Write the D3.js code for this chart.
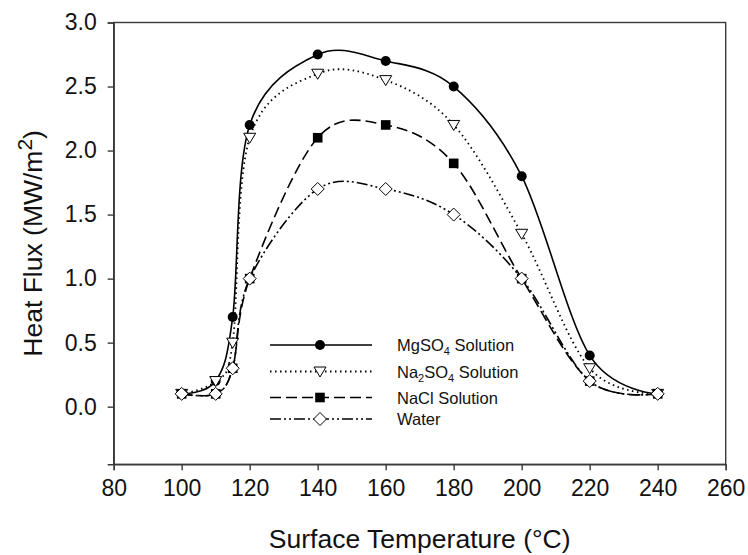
<!DOCTYPE html>
<html>
<head>
<meta charset="utf-8">
<script src="https://cdn.jsdelivr.net/npm/d3@7"></script>
<style>
  body { margin: 0; background: #fff; }
  text { font-family: "Liberation Sans", Arial, sans-serif; fill: #111; }
</style>
</head>
<body>
<svg width="748" height="555"></svg>
<script>
// temperatures (°C) and heat flux (MW/m2) per fluid
var temps = [100, 110, 115, 120, 140, 160, 180, 200, 220, 240];
var mgso4 = [0.1, 0.2, 0.7, 2.2, 2.75, 2.7, 2.5, 1.8, 0.4, 0.1];
var na2so4 = [0.1, 0.2, 0.5, 2.1, 2.6, 2.55, 2.2, 1.35, 0.3, 0.1];
var nacl = [0.1, 0.1, 0.3, 1.0, 2.1, 2.2, 1.9, 1.0, 0.2, 0.1];
var water = [0.1, 0.1, 0.3, 1.0, 1.7, 1.7, 1.5, 1.0, 0.2, 0.1];

var xTicks = [80, 100, 120, 140, 160, 180, 200, 220, 240, 260];
var yTicks = [0.0, 0.5, 1.0, 1.5, 2.0, 2.5, 3.0];

var series = [
  {name: "MgSO", sub: "4", rest: " Solution", values: mgso4, dash: null, marker: "circle"},
  {name: "Na", sub: "2", rest: "SO", sub2: "4", rest2: " Solution", values: na2so4, dash: "1.5,3.5", marker: "triangle"},
  {name: "NaCl Solution", values: nacl, dash: "11,5", marker: "square"},
  {name: "Water", values: water, dash: "11,3,2,3,2,3", marker: "diamond"}
];

var svg = d3.select("svg");
var margin = {left: 113.7, top: 22.5, right: 22.3, bottom: 90.7};
var width = 748 - margin.left - margin.right;
var height = 555 - margin.top - margin.bottom;

var x = d3.scaleLinear().domain([80, 260]).range([0, width]);
var y = d3.scaleLinear().domain([-0.45, 3.0]).range([height, 0]);

var g = svg.append("g").attr("transform", "translate(" + margin.left + "," + margin.top + ")");

// frame
g.append("rect")
  .attr("width", width).attr("height", height)
  .attr("fill", "none").attr("stroke", "#3a3a3a").attr("stroke-width", 1.4);

var xAxis = g.append("g")
  .attr("transform", "translate(0," + height + ")")
  .call(d3.axisBottom(x).tickValues(xTicks).tickSize(6).tickPadding(9).tickFormat(d3.format("d")));
var yAxis = g.append("g")
  .call(d3.axisLeft(y).tickValues(yTicks).tickSize(6).tickPadding(11).tickFormat(d3.format(".1f")));

[xAxis, yAxis].forEach(function(a) {
  a.select(".domain").attr("stroke", "#3a3a3a").attr("stroke-width", 1.4);
  a.selectAll(".tick line").attr("stroke", "#3a3a3a").attr("stroke-width", 1.4);
  a.selectAll(".tick text").style("font-size", "23px").attr("fill", "#111")
    .style("font-family", "'Liberation Sans', Arial, sans-serif");
});

// axis titles
svg.append("text")
  .attr("x", margin.left + width / 2).attr("y", 548)
  .attr("text-anchor", "middle")
  .style("font-size", "26.5px")
  .text("Surface Temperature (°C)");

var yt = svg.append("text")
  .attr("transform", "translate(42," + (margin.top + height / 2) + ") rotate(-90)")
  .attr("text-anchor", "middle")
  .style("font-size", "26.5px");
yt.append("tspan").text("Heat Flux (MW/m");
yt.append("tspan").attr("dy", -10).style("font-size", "21px").text("2");
yt.append("tspan").attr("dy", 10).text(")");

var line = d3.line()
  .x(function(d) { return x(d[0]); })
  .y(function(d) { return y(d[1]); })
  .curve(d3.curveCardinal.tension(0));

function drawMarker(sel, type) {
  if (type === "circle") {
    sel.append("circle").attr("r", 5).attr("fill", "#000");
  } else if (type === "square") {
    sel.append("rect").attr("x", -4.8).attr("y", -4.8).attr("width", 9.6).attr("height", 9.6).attr("fill", "#000");
  } else if (type === "triangle") {
    sel.append("path").attr("d", "M-6,-4.5L6,-4.5L0,5.5Z")
      .attr("fill", "#fff").attr("stroke", "#000").attr("stroke-width", 1);
  } else {
    sel.append("path").attr("d", "M0,-6.5L6.5,0L0,6.5L-6.5,0Z")
      .attr("fill", "#fff").attr("stroke", "#000").attr("stroke-width", 1);
  }
}

series.forEach(function(s) {
  var pts = temps.map(function(t, i) { return [t, s.values[i]]; });
  g.append("path")
    .datum(pts)
    .attr("d", line)
    .attr("fill", "none")
    .attr("stroke", "#000")
    .attr("stroke-width", s.marker === "triangle" ? 1.8 : 1.6)
    .attr("stroke-dasharray", s.dash);
  g.selectAll(null)
    .data(pts)
    .enter().append("g")
    .attr("transform", function(d) { return "translate(" + x(d[0]) + "," + y(d[1]) + ")"; })
    .each(function() { drawMarker(d3.select(this), s.marker); });
});

// legend
var rowsY = [345, 371.5, 397.5, 419];
var legend = svg.append("g");
series.forEach(function(s, i) {
  var row = legend.append("g").attr("transform", "translate(0," + rowsY[i] + ")");
  row.append("line")
    .attr("x1", 270).attr("x2", 372)
    .attr("stroke", "#000").attr("stroke-width", s.marker === "triangle" ? 1.8 : 1.6)
    .attr("stroke-dasharray", s.dash);
  var m = row.append("g").attr("transform", "translate(320,0)");
  drawMarker(m, s.marker);
  var t = row.append("text").attr("x", 397).attr("y", 6).style("font-size", "16.5px");
  t.append("tspan").text(s.name);
  if (s.sub) {
    t.append("tspan").attr("dy", 4).style("font-size", "11px").text(s.sub);
    t.append("tspan").attr("dy", -4).text(s.rest);
  }
  if (s.sub2) {
    t.append("tspan").attr("dy", 4).style("font-size", "11px").text(s.sub2);
    t.append("tspan").attr("dy", -4).text(s.rest2);
  }
});
</script>
</body>
</html>
